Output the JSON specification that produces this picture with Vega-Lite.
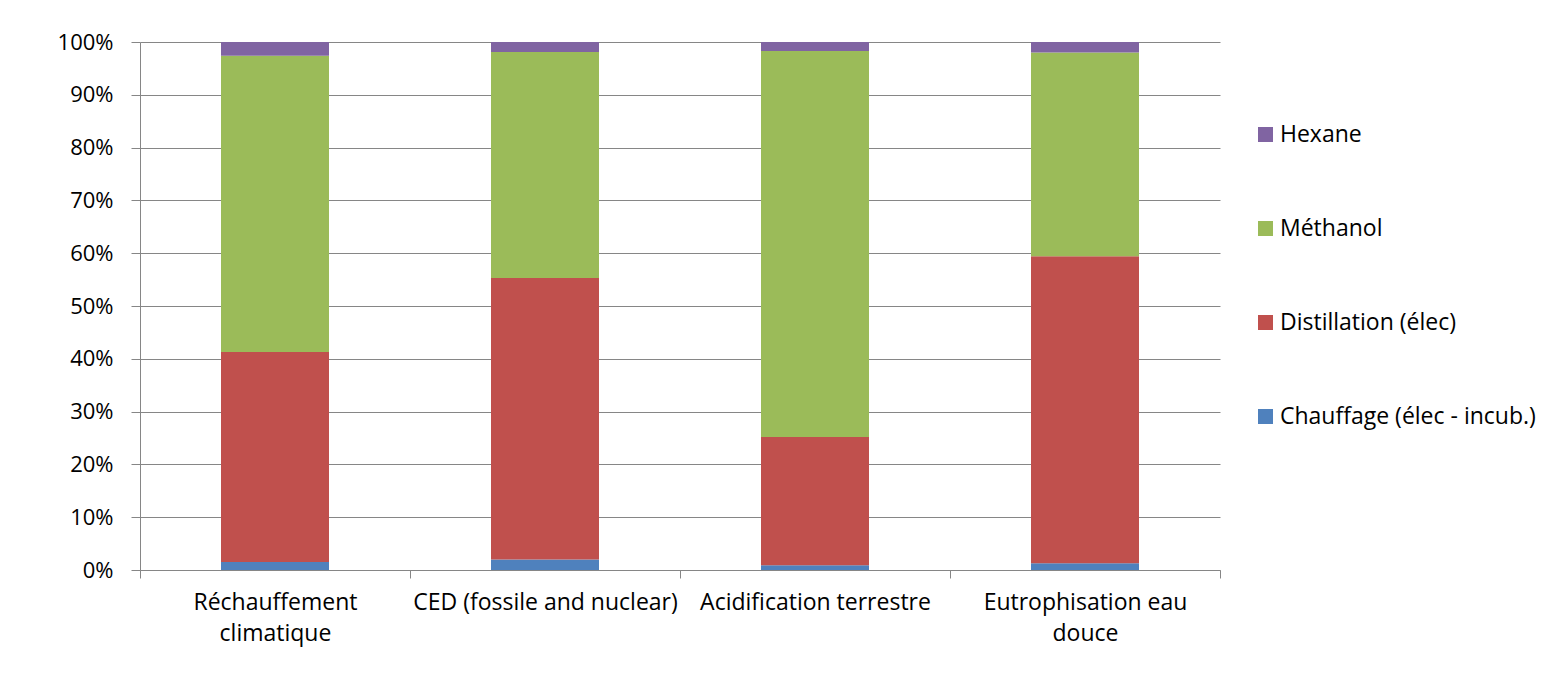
{
  "$schema": "https://vega.github.io/schema/vega-lite/v6.json",
  "width": 1080,
  "height": 528,
  "autosize": "none",
  "padding": {"left": 140, "top": 42, "right": 332, "bottom": 113},
  "background": "white",
  "config": {"view": {"stroke": null}, "font": "Open Sans"},
  "data": {
    "values": [
      {"category": "Réchauffement climatique", "series": "Chauffage (élec - incub.)", "value": 1.5},
      {"category": "Réchauffement climatique", "series": "Distillation (élec)", "value": 39.8},
      {"category": "Réchauffement climatique", "series": "Méthanol", "value": 56.1},
      {"category": "Réchauffement climatique", "series": "Hexane", "value": 2.6},
      {"category": "CED (fossile and nuclear)", "series": "Chauffage (élec - incub.)", "value": 2.0},
      {"category": "CED (fossile and nuclear)", "series": "Distillation (élec)", "value": 53.3},
      {"category": "CED (fossile and nuclear)", "series": "Méthanol", "value": 42.8},
      {"category": "CED (fossile and nuclear)", "series": "Hexane", "value": 1.9},
      {"category": "Acidification terrestre", "series": "Chauffage (élec - incub.)", "value": 0.9},
      {"category": "Acidification terrestre", "series": "Distillation (élec)", "value": 24.3},
      {"category": "Acidification terrestre", "series": "Méthanol", "value": 73.1},
      {"category": "Acidification terrestre", "series": "Hexane", "value": 1.7},
      {"category": "Eutrophisation eau douce", "series": "Chauffage (élec - incub.)", "value": 1.3},
      {"category": "Eutrophisation eau douce", "series": "Distillation (élec)", "value": 58.1},
      {"category": "Eutrophisation eau douce", "series": "Méthanol", "value": 38.6},
      {"category": "Eutrophisation eau douce", "series": "Hexane", "value": 2.0}
    ]
  },
  "transform": [
    {"calculate": "indexof(['Chauffage (élec - incub.)','Distillation (élec)','Méthanol','Hexane'], datum.series)", "as": "ord"}
  ],
  "mark": {"type": "bar", "width": {"band": 0.4}},
  "encoding": {
    "x": {
      "field": "category",
      "type": "nominal",
      "sort": null,
      "scale": {"paddingInner": 0, "paddingOuter": 0},
      "axis": {
        "title": null,
        "labelAngle": 0,
        "tickBand": "extent",
        "tickSize": 8,
        "tickColor": "#868686",
        "domainColor": "#868686",
        "labelFontSize": 23,
        "labelColor": "#000000",
        "labelPadding": 13,
        "labelLineHeight": 31,
        "labelBaseline": "top",
        "labelLimit": 400,
        "labelExpr": "datum.value == 'Réchauffement climatique' ? ['Réchauffement','climatique'] : datum.value == 'Eutrophisation eau douce' ? ['Eutrophisation eau','douce'] : datum.label"
      }
    },
    "y": {
      "field": "value",
      "type": "quantitative",
      "stack": "normalize",
      "scale": {"domain": [0, 1]},
      "axis": {
        "title": null,
        "values": [0, 0.1, 0.2, 0.3, 0.4, 0.5, 0.6, 0.7, 0.8, 0.9, 1],
        "format": ".0%",
        "grid": true,
        "gridColor": "#868686",
        "domainColor": "#868686",
        "tickColor": "#868686",
        "tickSize": 9,
        "labelPadding": 18,
        "labelFontSize": 22,
        "labelColor": "#000000"
      }
    },
    "color": {
      "field": "series",
      "type": "nominal",
      "scale": {
        "domain": ["Hexane", "Méthanol", "Distillation (élec)", "Chauffage (élec - incub.)"],
        "range": ["#8064A2", "#9BBB59", "#C0504D", "#4F81BD"]
      },
      "legend": {
        "title": null,
        "orient": "none",
        "legendX": 1114,
        "legendY": 81,
        "symbolType": "square",
        "symbolSize": 225,
        "symbolStrokeWidth": 0,
        "labelFontSize": 23,
        "labelColor": "#000000",
        "labelOffset": 3,
        "rowPadding": 70,
        "padding": 0,
        "labelLimit": 400
      }
    },
    "order": {"field": "ord", "type": "quantitative"}
  }
}
